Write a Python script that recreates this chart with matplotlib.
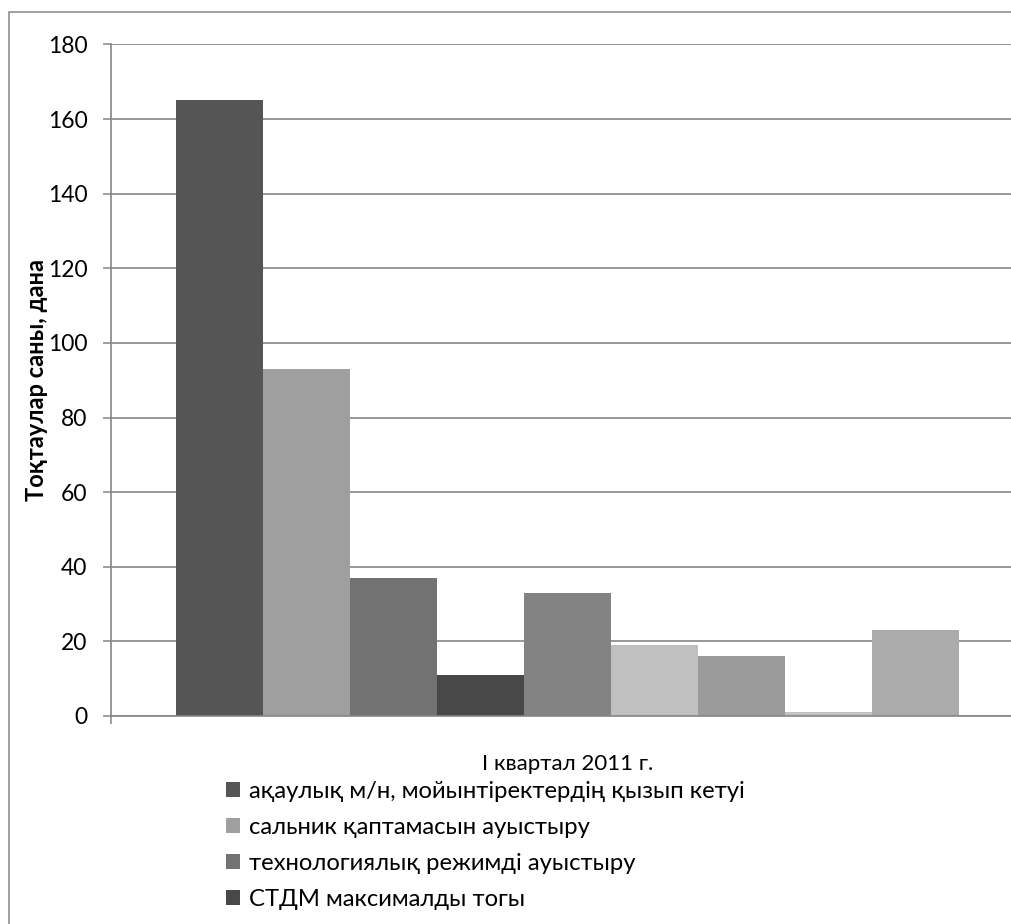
import matplotlib
matplotlib.use("Agg")
import matplotlib.pyplot as plt
from matplotlib.patches import Rectangle

# --- Дерек: I тоқсан 2011, тоқтаулар саны ---
category = "I квартал 2011 г."
values = [165, 93, 37, 11, 33, 19, 16, 1, 23]
colors = ["#555555", "#9f9f9f", "#727272", "#484848", "#838383",
          "#c0c0c0", "#9b9b9b", "#c2c2c2", "#ababab"]
legend_names = [
    "ақаулық м/н, мойынтіректердің қызып кетуі",
    "сальник қаптамасын ауыстыру",
    "технологиялық режимді ауыстыру",
    "СТДМ максималды тогы",
]
y_ticks = [0, 20, 40, 60, 80, 100, 120, 140, 160, 180]

GRID = "#868686"
plt.rcParams["font.family"] = ["Lato", "DejaVu Sans"]

W, H = 1012, 924
fig = plt.figure(figsize=(W / 100, H / 100), dpi=100)

# plot area: left 111 px, 0 at y=716, 180 at y=44.5; right edge runs past the figure
ax = fig.add_axes([111 / W, (H - 716) / H, 913 / W, (716 - 44.5) / H])

n = len(values)
bar_w = 1 / (n + 1.5)
for i, (v, c) in enumerate(zip(values, colors)):
    x = -n * bar_w / 2 + (i + 0.5) * bar_w
    ax.bar(x, v, width=bar_w, color=c, linewidth=0, zorder=2,
           label=legend_names[i] if i < len(legend_names) else None)

ax.set_xlim(-0.5, 0.5)
ax.set_ylim(0, 180)
ax.set_yticks(y_ticks)
ax.tick_params(axis="y", length=6, width=1.1, color=GRID, direction="out",
               labelsize=16.5, pad=11)
ax.yaxis.grid(True, color=GRID, linewidth=1.2, zorder=0)
ax.set_axisbelow(True)

# category axis: boundary ticks, label in the middle
ax.set_xticks([-0.5, 0.5])
ax.set_xticklabels(["", ""])
ax.tick_params(axis="x", which="major", length=6, width=1.1, color=GRID)
ax.set_xticks([0], minor=True)
ax.set_xticklabels([category], minor=True)
ax.tick_params(axis="x", which="minor", length=0, labelsize=16, pad=27)

for side in ["top", "right"]:
    ax.spines[side].set_visible(False)
for side in ["left", "bottom"]:
    ax.spines[side].set_color(GRID)
    ax.spines[side].set_linewidth(1.2)

ax.set_ylabel("Тоқтаулар саны, дана", fontsize=17, fontweight="bold")
ax.yaxis.set_label_coords(-0.069, 0.5)

leg = ax.legend(loc="upper left", bbox_to_anchor=(226 / W, (H - 781) / H),
                bbox_transform=fig.transFigure, frameon=False, fontsize=17.2,
                handlelength=0.58, handleheight=0.58, handletextpad=0.38,
                labelspacing=0.63, borderpad=0, borderaxespad=0)

# chart border
fig.add_artist(Rectangle((8.5 / W, -0.1), 1.2, (H - 12.5) / H + 0.1,
                         transform=fig.transFigure, fill=False,
                         edgecolor=GRID, linewidth=1.1, clip_on=False))

fig.savefig("out.png", dpi=100, facecolor="white")
